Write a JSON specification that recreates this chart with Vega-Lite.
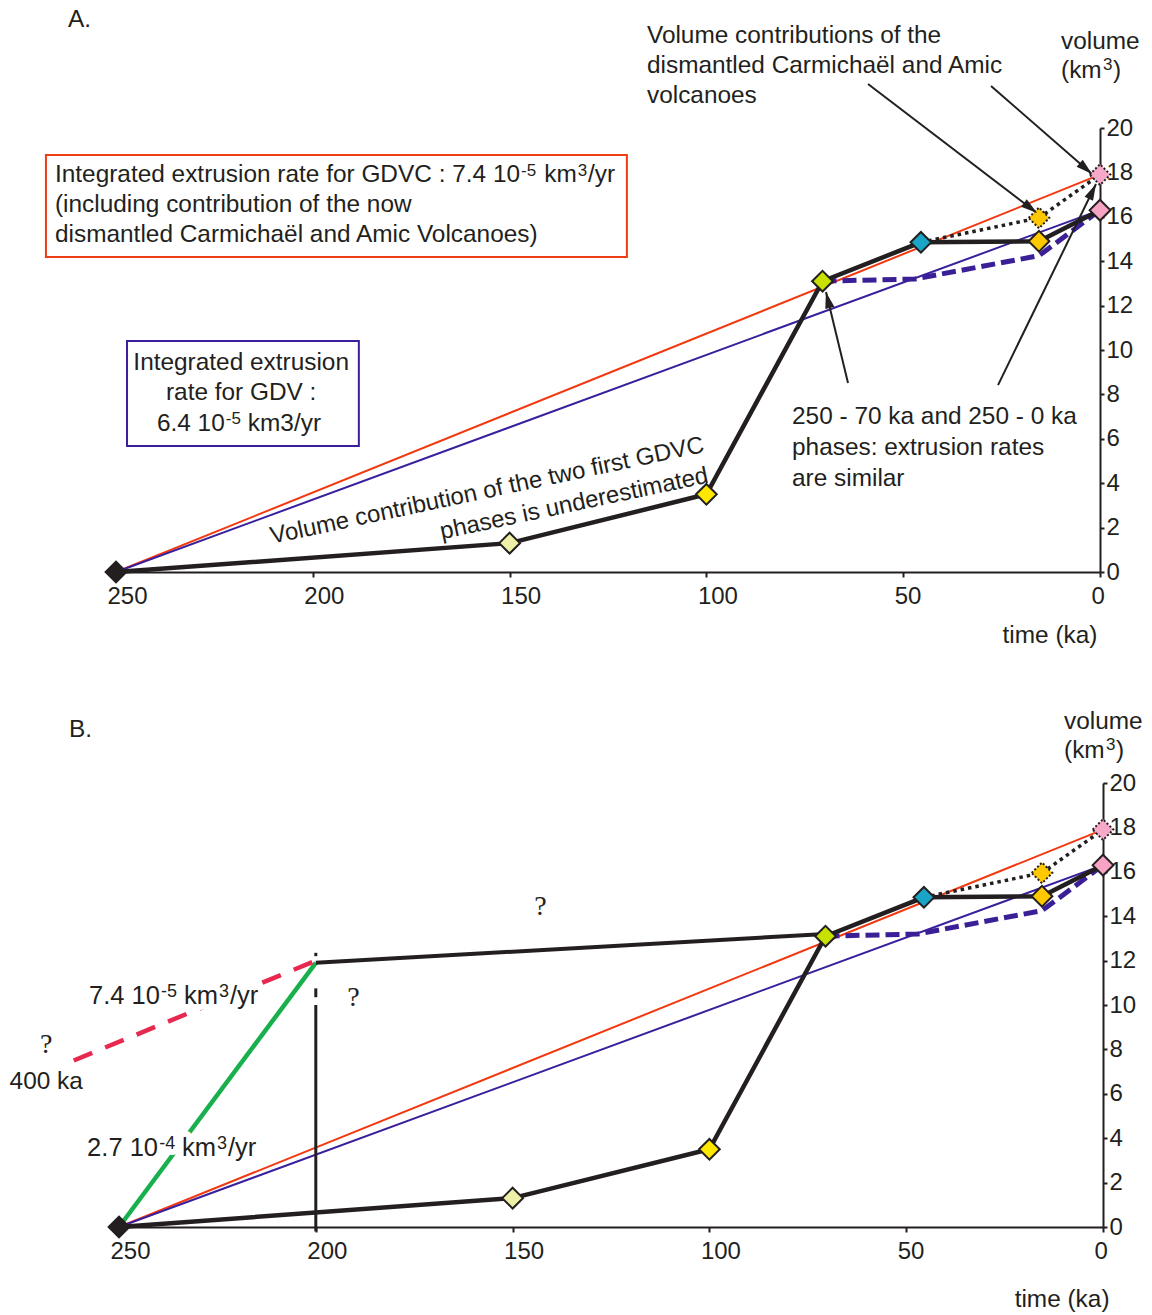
{
  "$schema": "https://vega.github.io/schema/vega-lite/v6.json",
  "autosize": "none",
  "width": 987,
  "height": 1099,
  "padding": {"left": 116, "top": 128, "right": 49, "bottom": 88},
  "background": "white",
  "config": {
    "view": {"stroke": null},
    "text": {"font": "Liberation Sans", "fontSize": 24.4, "color": "#231f20"},
    "axis": {"grid": false, "title": null, "domainColor": "#231f20", "domainWidth": 2, "tickColor": "#231f20", "tickWidth": 2, "labelFont": "Liberation Sans", "labelColor": "#231f20", "labelFlush": false, "labelOverlap": false}
  },
  "datasets": {
    "lines": [
      {"s": "red", "t": 250, "v": 0}, {"s": "red", "t": 0, "v": 17.9},
      {"s": "blue", "t": 250, "v": 0}, {"s": "blue", "t": 0, "v": 16.3},
      {"s": "dash", "t": 70.5, "v": 13.1}, {"s": "dash", "t": 47, "v": 13.2}, {"s": "dash", "t": 15.5, "v": 14.25}, {"s": "dash", "t": 0, "v": 16.3},
      {"s": "dot", "t": 45.5, "v": 14.85}, {"s": "dot", "t": 15.5, "v": 15.95}, {"s": "dot", "t": 0, "v": 17.9},
      {"s": "main", "t": 250, "v": 0}, {"s": "main", "t": 150, "v": 1.3}, {"s": "main", "t": 100, "v": 3.5}, {"s": "main", "t": 70.5, "v": 13.1}, {"s": "main", "t": 45.5, "v": 14.85}, {"s": "main", "t": 15.5, "v": 14.9}, {"s": "main", "t": 0, "v": 16.3}
    ],
    "linesB": [
      {"s": "green", "t": 250, "v": 0}, {"s": "green", "t": 200, "v": 11.9},
      {"s": "crimson", "t": 261.5, "v": 7.5}, {"s": "crimson", "t": 200, "v": 12.0},
      {"s": "old", "t": 200, "v": 11.9}, {"s": "old", "t": 70.5, "v": 13.2},
      {"s": "v1", "t": 200, "v": -0.2}, {"s": "v1", "t": 200, "v": 10.0},
      {"s": "v2", "t": 200, "v": 10.35}, {"s": "v2", "t": 200, "v": 10.75},
      {"s": "v3", "t": 200, "v": 12.2}, {"s": "v3", "t": 200, "v": 12.35}
    ],
    "pts": [
      {"pt": "p250", "t": 250, "v": 0},
      {"pt": "p150", "t": 150, "v": 1.3},
      {"pt": "p100", "t": 100, "v": 3.5},
      {"pt": "p70", "t": 70.5, "v": 13.1},
      {"pt": "p45", "t": 45.5, "v": 14.85},
      {"pt": "p15", "t": 15.5, "v": 14.9},
      {"pt": "p0", "t": 0, "v": 16.3},
      {"pt": "p15d", "t": 15.5, "v": 15.95},
      {"pt": "p0d", "t": 0, "v": 17.9}
    ],
    "boxesA": [
      {"box": "GDVC", "t": 267.8, "t2": 120.2, "v": 18.78, "v2": 14.19},
      {"box": "GDV", "t": 247.2, "t2": 188.3, "v": 10.41, "v2": 5.68}
    ],
    "arrows": [
      {"a": "1", "t": 58.94, "v": 21.98}, {"a": "1", "t": 16.0, "v": 16.17},
      {"a": "2", "t": 27.69, "v": 21.89}, {"a": "2", "t": 2.03, "v": 17.93},
      {"a": "3", "t": 64.02, "v": 8.51}, {"a": "3", "t": 69.61, "v": 12.61},
      {"a": "4", "t": 25.91, "v": 8.42}, {"a": "4", "t": 1.02, "v": 17.48}
    ],
    "heads": [
      {"a": "1", "t": 18.37, "v": 16.49},
      {"a": "2", "t": 4.27, "v": 18.27},
      {"a": "3", "t": 68.92, "v": 12.10},
      {"a": "4", "t": 2.32, "v": 17.0}
    ],
    "txtLeftA": [
      {"txt": "A.", "t": 262.2, "v": 24.86},
      {"txt": "Volume contributions of the", "t": 115.1, "v": 24.14},
      {"txt": "dismantled Carmichaël and Amic", "t": 115.1, "v": 22.79},
      {"txt": "volcanoes", "t": 115.1, "v": 21.44},
      {"txt": "volume", "t": 9.9, "v": 23.87},
      {"txt": "(km", "t": 9.9, "v": 22.57},
      {"txt": ")", "t": -3.3, "v": 22.57},
      {"txt": "Integrated extrusion rate for GDVC : 7.4 10", "t": 265.5, "v": 17.88},
      {"txt": "km", "t": 141.2, "v": 17.88},
      {"txt": "/yr", "t": 130.1, "v": 17.88},
      {"txt": "(including contribution of the now", "t": 265.5, "v": 16.53},
      {"txt": "dismantled Carmichaël and Amic Volcanoes)", "t": 265.5, "v": 15.18},
      {"txt": "6.4 10", "t": 239.6, "v": 6.67},
      {"txt": "km3/yr", "t": 216.5, "v": 6.67},
      {"txt": "250 - 70 ka and 250 - 0 ka", "t": 78.25, "v": 6.98},
      {"txt": "phases: extrusion rates", "t": 78.25, "v": 5.59},
      {"txt": "are similar", "t": 78.25, "v": 4.19}
    ],
    "supA": [
      {"txt": "3", "t": -0.76, "v": 22.82},
      {"txt": "-5", "t": 147.1, "v": 18.08},
      {"txt": "3", "t": 132.7, "v": 18.08},
      {"txt": "-5", "t": 222.1, "v": 6.87}
    ],
    "txtCenterA": [
      {"txt": "Integrated extrusion", "t": 218.2, "v": 9.41},
      {"txt": "rate for GDV :", "t": 218.2, "v": 8.06},
      {"txt": "time (ka)", "t": 12.7, "v": -2.88}
    ],
    "txtRotA": [
      {"txt": "Volume contribution of the two first GDVC", "t": 155.7, "v": 3.65},
      {"txt": "phases is underestimated", "t": 133.6, "v": 3.06}
    ],
    "txtLeftB": [
      {"txt": "B.", "t": 262.7, "v": 22.4},
      {"txt": "volume", "t": 9.9, "v": 22.75},
      {"txt": "(km", "t": 9.9, "v": 21.44},
      {"txt": ")", "t": -3.3, "v": 21.44}
    ],
    "supB": [
      {"txt": "3", "t": -0.76, "v": 21.69}
    ],
    "txtCenterB": [
      {"txt": "time (ka)", "t": 10.4, "v": -3.29},
      {"txt": "400 ka", "t": 268.5, "v": 6.53}
    ],
    "qB": [
      {"txt": "?", "t": 142.9, "v": 14.41},
      {"txt": "?", "t": 190.4, "v": 10.32},
      {"txt": "?", "t": 268.5, "v": 8.2}
    ],
    "rateB": [
      {"txt": "7.4 10", "t": 257.6, "v": 10.4},
      {"txt": "km", "t": 233.5, "v": 10.4},
      {"txt": "/yr", "t": 221.8, "v": 10.4},
      {"txt": "2.7 10", "t": 258.1, "v": 3.56},
      {"txt": "km", "t": 234.0, "v": 3.56},
      {"txt": "/yr", "t": 222.3, "v": 3.56}
    ],
    "rateBsup": [
      {"txt": "-5", "t": 239.3, "v": 10.6},
      {"txt": "3", "t": 224.6, "v": 10.6},
      {"txt": "-4", "t": 239.8, "v": 3.76},
      {"txt": "3", "t": 225.1, "v": 3.76}
    ]
  },
  "layer": [
    {
      "encoding": {
        "x": {"field": "t", "type": "quantitative", "scale": {"domain": [250, 0], "range": [0, 984], "nice": false, "zero": false},
              "axis": {"orient": "bottom", "offset": -655, "values": [250, 200, 150, 100, 50, 0], "tickSize": 5, "labelFontSize": 24, "labelAlign": "left", "labelOffset": -9, "labelPadding": 7, "labelBaseline": "top"}},
        "y": {"field": "v", "type": "quantitative", "scale": {"domain": [0, 20], "range": [444, 0], "nice": false, "zero": false},
              "axis": {"orient": "right", "offset": -3, "values": [0, 2, 4, 6, 8, 10, 12, 14, 16, 18, 20], "tickSize": 4, "labelFontSize": 24, "labelPadding": 2, "labelAlign": "left", "labelBaseline": "middle"}}
      },
      "layer": [
        {"data": {"name": "boxesA"}, "mark": {"type": "rect", "fill": "white", "strokeWidth": 2},
         "encoding": {"x2": {"field": "t2"}, "y2": {"field": "v2"},
                      "stroke": {"field": "box", "type": "nominal", "scale": {"domain": ["GDVC", "GDV"], "range": ["#f03c14", "#3c1e9c"]}, "legend": null}}},
        {"data": {"name": "lines"}, "transform": [{"filter": "datum.s == 'red'"}], "mark": {"type": "line", "color": "#f2380f", "strokeWidth": 2}, "encoding": {"detail": {"field": "s"}}},
        {"data": {"name": "lines"}, "transform": [{"filter": "datum.s == 'blue'"}], "mark": {"type": "line", "color": "#3a1f9d", "strokeWidth": 2}, "encoding": {"detail": {"field": "s"}}},
        {"data": {"name": "lines"}, "transform": [{"filter": "datum.s == 'dash'"}], "mark": {"type": "line", "color": "#3a1f96", "strokeWidth": 5, "strokeDash": [14, 6]}, "encoding": {"detail": {"field": "s"}}},
        {"data": {"name": "lines"}, "transform": [{"filter": "datum.s == 'dot'"}], "mark": {"type": "line", "color": "#231f20", "strokeWidth": 3.5, "strokeDash": [3.5, 4]}, "encoding": {"detail": {"field": "s"}}},
        {"data": {"name": "lines"}, "transform": [{"filter": "datum.s == 'main'"}], "mark": {"type": "line", "color": "#231f20", "strokeWidth": 4.5}, "encoding": {"detail": {"field": "s"}}},
        {"data": {"name": "arrows"}, "mark": {"type": "line", "color": "#231f20", "strokeWidth": 2}, "encoding": {"detail": {"field": "a"}}},
        {"data": {"name": "pts"}, "transform": [{"filter": "datum.pt != 'p15d' && datum.pt != 'p0d'"}],
         "mark": {"type": "point", "shape": "diamond", "filled": true, "size": 430, "stroke": "#231f20", "strokeWidth": 2, "opacity": 1},
         "encoding": {"fill": {"field": "pt", "type": "nominal", "scale": {"domain": ["p250", "p150", "p100", "p70", "p45", "p15", "p0", "p15d", "p0d"], "range": ["#231f20", "#eef0a8", "#ffe800", "#c8e100", "#1aa5c6", "#ffc800", "#f6a3c4", "#ffc800", "#f6a9c9"]}, "legend": null}}},
        {"data": {"name": "pts"}, "transform": [{"filter": "datum.pt == 'p15d' || datum.pt == 'p0d'"}],
         "mark": {"type": "point", "shape": "diamond", "filled": true, "size": 430, "stroke": "#231f20", "strokeWidth": 2, "strokeDash": [2, 2], "opacity": 1},
         "encoding": {"fill": {"field": "pt", "type": "nominal", "scale": {"domain": ["p250", "p150", "p100", "p70", "p45", "p15", "p0", "p15d", "p0d"], "range": ["#231f20", "#eef0a8", "#ffe800", "#c8e100", "#1aa5c6", "#ffc800", "#f6a3c4", "#ffc800", "#f6a9c9"]}, "legend": null}}},
        {"data": {"name": "heads"}, "transform": [{"filter": "datum.a == '1'"}], "mark": {"type": "point", "shape": "M0,-1L-0.4,0.4L0.4,0.4Z", "filled": true, "size": 550, "color": "#231f20", "opacity": 1, "angle": 127}},
        {"data": {"name": "heads"}, "transform": [{"filter": "datum.a == '2'"}], "mark": {"type": "point", "shape": "M0,-1L-0.4,0.4L0.4,0.4Z", "filled": true, "size": 550, "color": "#231f20", "opacity": 1, "angle": 131}},
        {"data": {"name": "heads"}, "transform": [{"filter": "datum.a == '3'"}], "mark": {"type": "point", "shape": "M0,-1L-0.4,0.4L0.4,0.4Z", "filled": true, "size": 550, "color": "#231f20", "opacity": 1, "angle": 346}},
        {"data": {"name": "heads"}, "transform": [{"filter": "datum.a == '4'"}], "mark": {"type": "point", "shape": "M0,-1L-0.4,0.4L0.4,0.4Z", "filled": true, "size": 550, "color": "#231f20", "opacity": 1, "angle": 26}},
        {"data": {"name": "txtLeftA"}, "mark": {"type": "text", "align": "left", "baseline": "middle"}, "encoding": {"text": {"field": "txt"}}},
        {"data": {"name": "supA"}, "mark": {"type": "text", "align": "left", "baseline": "middle", "fontSize": 17}, "encoding": {"text": {"field": "txt"}}},
        {"data": {"name": "txtCenterA"}, "mark": {"type": "text", "align": "center", "baseline": "middle"}, "encoding": {"text": {"field": "txt"}}},
        {"data": {"name": "txtRotA"}, "mark": {"type": "text", "align": "center", "baseline": "middle", "angle": 348, "fontSize": 24}, "encoding": {"text": {"field": "txt"}}}
      ]
    },
    {
      "encoding": {
        "x": {"field": "t", "type": "quantitative", "scale": {"domain": [250, 0], "range": [3, 987], "nice": false, "zero": false},
              "axis": {"orient": "bottom", "offset": 0, "values": [250, 200, 150, 100, 50, 0], "tickSize": 5, "labelFontSize": 24, "labelAlign": "left", "labelOffset": -9, "labelPadding": 7, "labelBaseline": "top"}},
        "y": {"field": "v", "type": "quantitative", "scale": {"domain": [0, 20], "range": [1099, 655], "nice": false, "zero": false},
              "axis": {"orient": "right", "offset": 0, "values": [0, 2, 4, 6, 8, 10, 12, 14, 16, 18, 20], "tickSize": 4, "labelFontSize": 24, "labelPadding": 2, "labelAlign": "left", "labelBaseline": "middle"}}
      },
      "layer": [
        {"data": {"name": "lines"}, "transform": [{"filter": "datum.s == 'red'"}], "mark": {"type": "line", "color": "#f2380f", "strokeWidth": 2}, "encoding": {"detail": {"field": "s"}}},
        {"data": {"name": "lines"}, "transform": [{"filter": "datum.s == 'blue'"}], "mark": {"type": "line", "color": "#3a1f9d", "strokeWidth": 2}, "encoding": {"detail": {"field": "s"}}},
        {"data": {"name": "lines"}, "transform": [{"filter": "datum.s == 'dash'"}], "mark": {"type": "line", "color": "#3a1f96", "strokeWidth": 5, "strokeDash": [14, 6]}, "encoding": {"detail": {"field": "s"}}},
        {"data": {"name": "lines"}, "transform": [{"filter": "datum.s == 'dot'"}], "mark": {"type": "line", "color": "#231f20", "strokeWidth": 3.5, "strokeDash": [3.5, 4]}, "encoding": {"detail": {"field": "s"}}},
        {"data": {"name": "lines"}, "transform": [{"filter": "datum.s == 'main'"}], "mark": {"type": "line", "color": "#231f20", "strokeWidth": 4.5}, "encoding": {"detail": {"field": "s"}}},
        {"data": {"name": "linesB"}, "transform": [{"filter": "datum.s == 'green'"}], "mark": {"type": "line", "color": "#18b04c", "strokeWidth": 4.5}, "encoding": {"detail": {"field": "s"}}},
        {"data": {"name": "linesB"}, "transform": [{"filter": "datum.s == 'crimson'"}], "mark": {"type": "line", "color": "#e8294f", "strokeWidth": 4.5, "strokeDash": [20, 14]}, "encoding": {"detail": {"field": "s"}}},
        {"data": {"name": "linesB"}, "transform": [{"filter": "datum.s == 'old'"}], "mark": {"type": "line", "color": "#231f20", "strokeWidth": 4}, "encoding": {"detail": {"field": "s"}}},
        {"data": {"name": "linesB"}, "transform": [{"filter": "datum.s == 'v1' || datum.s == 'v2' || datum.s == 'v3'"}], "mark": {"type": "line", "color": "#231f20", "strokeWidth": 3}, "encoding": {"detail": {"field": "s"}}},
        {"data": {"name": "pts"}, "transform": [{"filter": "datum.pt != 'p15d' && datum.pt != 'p0d'"}],
         "mark": {"type": "point", "shape": "diamond", "filled": true, "size": 430, "stroke": "#231f20", "strokeWidth": 2, "opacity": 1},
         "encoding": {"fill": {"field": "pt", "type": "nominal", "scale": {"domain": ["p250", "p150", "p100", "p70", "p45", "p15", "p0", "p15d", "p0d"], "range": ["#231f20", "#eef0a8", "#ffe800", "#c8e100", "#1aa5c6", "#ffc800", "#f6a3c4", "#ffc800", "#f6a9c9"]}, "legend": null}}},
        {"data": {"name": "pts"}, "transform": [{"filter": "datum.pt == 'p15d' || datum.pt == 'p0d'"}],
         "mark": {"type": "point", "shape": "diamond", "filled": true, "size": 430, "stroke": "#231f20", "strokeWidth": 2, "strokeDash": [2, 2], "opacity": 1},
         "encoding": {"fill": {"field": "pt", "type": "nominal", "scale": {"domain": ["p250", "p150", "p100", "p70", "p45", "p15", "p0", "p15d", "p0d"], "range": ["#231f20", "#eef0a8", "#ffe800", "#c8e100", "#1aa5c6", "#ffc800", "#f6a3c4", "#ffc800", "#f6a9c9"]}, "legend": null}}},
        {"data": {"name": "txtLeftB"}, "mark": {"type": "text", "align": "left", "baseline": "middle"}, "encoding": {"text": {"field": "txt"}}},
        {"data": {"name": "supB"}, "mark": {"type": "text", "align": "left", "baseline": "middle", "fontSize": 17}, "encoding": {"text": {"field": "txt"}}},
        {"data": {"name": "txtCenterB"}, "mark": {"type": "text", "align": "center", "baseline": "middle"}, "encoding": {"text": {"field": "txt"}}},
        {"data": {"name": "qB"}, "mark": {"type": "text", "align": "center", "baseline": "middle", "font": "Liberation Serif", "fontSize": 28}, "encoding": {"text": {"field": "txt"}}},
        {"data": {"name": "rateB"}, "mark": {"type": "text", "align": "left", "baseline": "middle", "fontSize": 25.5, "color": "white", "stroke": "white", "strokeWidth": 12, "strokeJoin": "round"}, "encoding": {"text": {"field": "txt"}}},
        {"data": {"name": "rateBsup"}, "mark": {"type": "text", "align": "left", "baseline": "middle", "fontSize": 18, "color": "white", "stroke": "white", "strokeWidth": 12, "strokeJoin": "round"}, "encoding": {"text": {"field": "txt"}}},
        {"data": {"name": "rateB"}, "mark": {"type": "text", "align": "left", "baseline": "middle", "fontSize": 25.5}, "encoding": {"text": {"field": "txt"}}},
        {"data": {"name": "rateBsup"}, "mark": {"type": "text", "align": "left", "baseline": "middle", "fontSize": 18}, "encoding": {"text": {"field": "txt"}}}
      ]
    }
  ],
  "resolve": {"scale": {"x": "independent", "y": "independent"}}
}
